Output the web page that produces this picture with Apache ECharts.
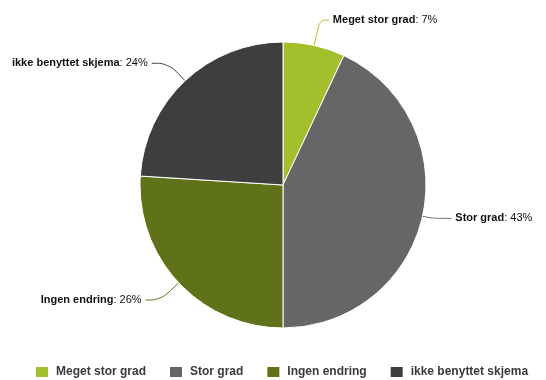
<!DOCTYPE html>
<html>
<head>
<meta charset="utf-8">
<script src="https://cdn.jsdelivr.net/npm/echarts@6/dist/echarts.min.js"></script>
<style>
  html, body { margin: 0; padding: 0; background: #fff; }
  #chart { width: 546px; height: 380px; }
</style>
</head>
<body>
<div id="chart"></div>
<script>
// Survey answers, share of respondents in percent
const categories = ['Meget stor grad', 'Stor grad', 'Ingen endring', 'ikke benyttet skjema'];
const shares = [7, 43, 26, 24];
const colors = ['#a3bf2b', '#666666', '#5f7219', '#3e3e3e'];
// Connector lengths per slice: [radial, horizontal]
const connectors = [[26, 9], [10, 19], [25, 15], [24, 17]];

const chart = echarts.init(document.getElementById('chart'), null, { renderer: 'canvas' });

const data = categories.map((name, i) => ({
  name: name,
  value: shares[i],
  itemStyle: { color: colors[i] },
  labelLine: { length: connectors[i][0], length2: connectors[i][1] }
}));

chart.setOption({
  animation: false,
  textStyle: { fontFamily: 'Liberation Sans, Arial, sans-serif' },
  legend: {
    bottom: -4,
    left: 29,
    itemWidth: 14,
    itemHeight: 12,
    itemGap: 22,
    icon: 'rect',
    textStyle: { fontSize: 12, fontWeight: 'bold', color: '#3a3a3a', padding: [0, 0, 0, 2] },
    data: categories
  },
  series: [{
    type: 'pie',
    center: [283, 185],
    radius: [0, 143],
    startAngle: 90,
    clockwise: true,
    avoidLabelOverlap: false,
    itemStyle: { borderColor: '#ffffff', borderWidth: 1 },
    label: {
      show: true,
      position: 'outside',
      formatter: p => '{b|' + p.name + '}{v|: ' + p.value + '%}',
      distanceToLabelLine: 4,
      rich: {
        b: { fontSize: 11, fontWeight: 'bold', color: '#111', fontFamily: 'Liberation Sans, Arial, sans-serif' },
        v: { fontSize: 11, color: '#111', fontFamily: 'Liberation Sans, Arial, sans-serif' }
      }
    },
    labelLine: { show: true, smooth: 0.4, lineStyle: { width: 1 } },
    emphasis: { disabled: true },
    data: data
  }]
});
</script>
</body>
</html>
